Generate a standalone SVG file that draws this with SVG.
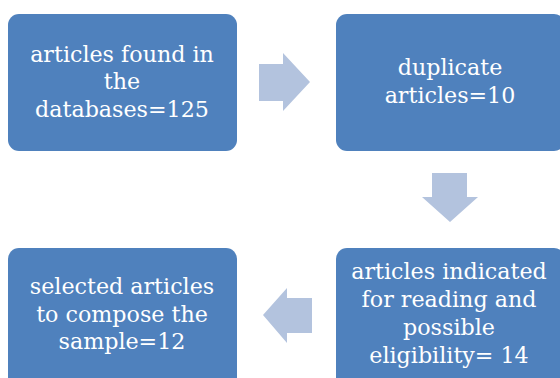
<svg xmlns="http://www.w3.org/2000/svg" width="560" height="378" viewBox="0 0 560 378">
<style>
.box{fill:#4F81BD;}
.arr{fill:#B3C3DE;}
.t{font-family:"DejaVu Serif","Liberation Serif",serif;font-size:22.2px;fill:#FFFFFF;text-anchor:middle;}
</style>
<rect width="560" height="378" fill="#FFFFFF"/>
<g id="connectors">
<polygon class="arr" points="259,64 283,64 283,53 310,82 283,111 283,101 259,101"/>
<polygon class="arr" points="432,173 467,173 467,197 478,197 450,222 422,197 432,197"/>
<polygon class="arr" points="312,298 287,298 287,288 263,315 287,343 287,333 312,333"/>
</g>
<g id="n1">
<rect class="box" x="8" y="14" width="229" height="137" rx="11"/>
<text class="t" x="122" y="62">articles found in</text>
<text class="t" x="122" y="89">the</text>
<text class="t" x="122" y="117">databases=125</text>
</g>
<g id="n2">
<rect class="box" x="336" y="14" width="229" height="137" rx="11"/>
<text class="t" x="450" y="75">duplicate</text>
<text class="t" x="450" y="103">articles=10</text>
</g>
<g id="n3">
<rect class="box" x="336" y="248" width="229" height="145" rx="11"/>
<text class="t" x="449" y="279">articles indicated</text>
<text class="t" x="449" y="307">for reading and</text>
<text class="t" x="449" y="335">possible</text>
<text class="t" x="449" y="363">eligibility= 14</text>
</g>
<g id="n4">
<rect class="box" x="8" y="248" width="229" height="145" rx="11"/>
<text class="t" x="122" y="294">selected articles</text>
<text class="t" x="122" y="322">to compose the</text>
<text class="t" x="122" y="349">sample=12</text>
</g>
</svg>
